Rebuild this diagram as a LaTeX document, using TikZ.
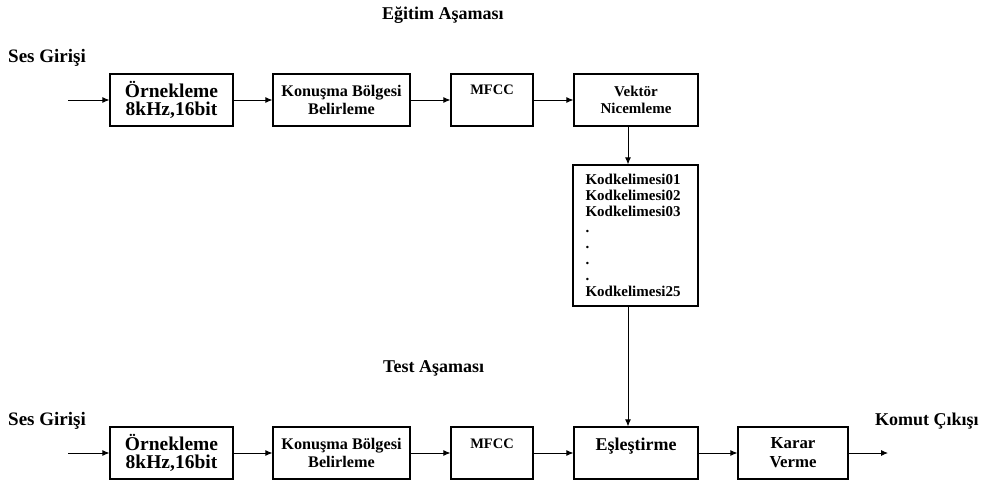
\documentclass[tikz,border=0pt]{standalone}
\usepackage{fontspec}
\setmainfont{Liberation Serif}
\usetikzlibrary{arrows.meta}

\begin{document}
\begin{tikzpicture}[x=1pt, y=-1pt,
	blok/.style={draw, line width=1.2pt, minimum height=52pt, align=center, inner sep=0pt},
	ok/.style={-{Latex[length=7pt,width=6pt]}, line width=0.9pt},
	baslik/.style={anchor=base west, inner sep=0pt, font=\fontsize{18}{20}\selectfont\bfseries}]
	\useasboundingbox (0,0) rectangle (982,481);
	% Egitim asamasi
	\node[baslik] (egitim) at (382,20) {Eğitim Aşaması};
	\node[baslik, font=\fontsize{19}{20}\selectfont\bfseries] (sesA) at (8,63) {Ses Girişi};
	\coordinate (girisA) at (68,100);
	\node[blok, minimum width=123pt, font=\fontsize{19.5}{18}\selectfont\bfseries] (ornA) at (171.5,100) {Örnekleme\\8kHz,16bit};
	\node[blok, minimum width=137pt, font=\fontsize{16.2}{18}\selectfont\bfseries] (konA) at (341.5,100) {Konuşma Bölgesi\\Belirleme};
	\node[blok, minimum width=82pt, text height=10pt, text depth=20pt, font=\fontsize{14.5}{18}\selectfont\bfseries] (mfccA) at (492,100) {MFCC};
	\node[blok, minimum width=124pt, font=\fontsize{15}{17}\selectfont\bfseries] (vekA) at (636,100) {Vektör\\Nicemleme};
	\node[draw, line width=1.2pt, minimum width=125pt, minimum height=141pt, inner xsep=12.5pt, text width=100pt, align=left,
		font=\fontsize{15}{16}\selectfont\bfseries] (kod) at (635.5,235.5)
		{Kodkelimesi01\\Kodkelimesi02\\Kodkelimesi03\\.\\.\\.\\.\\Kodkelimesi25};
	\draw[ok] (girisA) -- (ornA);
	\draw[ok] (ornA) -- (konA);
	\draw[ok] (konA) -- (mfccA);
	\draw[ok] (mfccA) -- (vekA);
	\draw[ok] ([xshift=-8pt]vekA.south) -- ([xshift=-7.5pt]kod.north);
	
	% Test asamasi
	\node[baslik] (test) at (383,372) {Test Aşaması};
	\node[baslik, font=\fontsize{19}{20}\selectfont\bfseries] (sesB) at (8,425) {Ses Girişi};
	\node[baslik] (komut) at (875,425) {Komut Çıkışı};
	\coordinate (girisB) at (68,453);
	\coordinate (cikis) at (888,453);
	\node[blok, minimum width=123pt, font=\fontsize{19.5}{18}\selectfont\bfseries] (ornB) at (171.5,453) {Örnekleme\\8kHz,16bit};
	\node[blok, minimum width=137pt, font=\fontsize{16.2}{18}\selectfont\bfseries] (konB) at (341.5,453) {Konuşma Bölgesi\\Belirleme};
	\node[blok, minimum width=82pt, text height=10pt, text depth=20pt, font=\fontsize{14.5}{18}\selectfont\bfseries] (mfccB) at (492,453) {MFCC};
	\node[blok, minimum width=124pt, text height=12pt, text depth=18pt, font=\fontsize{18}{18}\selectfont\bfseries] (esB) at (636,453) {Eşleştirme};
	\node[blok, minimum width=110pt, font=\fontsize{16.8}{19}\selectfont\bfseries] (karB) at (793,453) {Karar\\Verme};
	\draw[ok] (girisB) -- (ornB);
	\draw[ok] (ornB) -- (konB);
	\draw[ok] (konB) -- (mfccB);
	\draw[ok] (mfccB) -- (esB);
	\draw[ok] (esB) -- (karB);
	\draw[ok] (karB) -- (cikis);
	\draw[ok] ([xshift=-7.5pt]kod.south) -- ([xshift=-8pt]esB.north);
\end{tikzpicture}
\end{document}
